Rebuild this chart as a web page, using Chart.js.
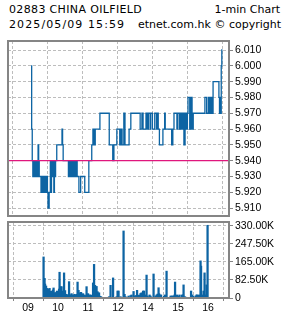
<!DOCTYPE html>
<html>
<head>
<meta charset="utf-8">
<script src="https://cdn.jsdelivr.net/npm/chart.js@4.4.1/dist/chart.umd.min.js"></script>
<style>
  html, body { margin: 0; padding: 0; background: #fff; }
  #wrap { position: relative; width: 285px; height: 318px; overflow: hidden; background: #fff; }
  canvas { position: absolute; left: 0; top: 0; }
  .t { position: absolute; font-family: "DejaVu Sans", sans-serif; font-size: 11px; line-height: 13px; color: #000; white-space: nowrap; }
</style>
</head>
<body>
<div id="wrap">
  <div class="t" id="t1" style="left:9px; top:2.7px; letter-spacing:0.35px;">02883 CHINA OILFIELD</div>
  <div class="t" id="t2" style="right:5px; top:2.7px;">1-min Chart</div>
  <div class="t" id="t3" style="left:9px; top:17.7px; letter-spacing:1.1px;">2025/05/09 15:59</div>
  <div class="t" id="t4" style="right:4px; top:17.7px;">etnet.com.hk © copyright</div>
  <canvas id="cPrice" width="285" height="318"></canvas>
  <canvas id="cVol" width="285" height="318"></canvas>
</div>
<script>
// ---------------- data ----------------
const prevClose = 5.94;

const hourTicks = ['09:00', '10:00', '11:00', '12:00', '14:00', '15:00', '16:00'];
const hourLabels = ['09', '10', '11', '12', '14', '15', '16'];

const priceTicks = [5.91, 5.92, 5.93, 5.94, 5.95, 5.96, 5.97, 5.98, 5.99, 6.00, 6.01];
const volTicks = [0, 82500, 165000, 247500, 330000];

const priceTimes = [
  '09:31','09:32','09:33','09:34','09:35','09:36','09:37','09:38','09:39','09:40',
  '09:41','09:42','09:43','09:44','09:45','09:48','09:50','09:52','09:53','09:54',
  '09:56','09:57','09:58','09:59','10:00','10:02','10:04','10:05','10:06','10:07',
  '10:09','10:10','10:11','10:12','10:13','10:15','10:24','10:25','10:26','10:35',
  '10:36','10:37','10:38','10:39','10:40','10:42','10:43','10:44','10:45','10:47',
  '10:48','10:50','10:53','10:56','11:03','11:10','11:15','11:17','11:18','11:19',
  '11:20','11:21','11:29','11:45','11:51','11:53','11:58','13:03','13:04','13:05',
  '13:06','13:07','13:10','13:12','13:19','13:22','13:38','13:41','13:43','13:48',
  '13:50','13:52','13:55','13:56','13:59','14:03','14:06','14:07','14:09','14:11',
  '14:17','14:20','14:21','14:32','14:34','14:36','14:41','14:42','14:45','14:47',
  '14:48','14:49','14:50','14:51','14:53','14:55','14:56','14:57','14:58','14:59',
  '15:00','15:03','15:04','15:05','15:06','15:07','15:09','15:29','15:32','15:35',
  '15:36','15:37','15:38','15:40','15:41','15:43','15:53','15:54','15:55','15:56',
  '15:57','15:58','15:59'
];
const prices = [
  6.00, 5.96, 5.94, 5.93, 5.94, 5.93, 5.94, 5.93, 5.94, 5.93,
  5.94, 5.93, 5.95, 5.94, 5.93, 5.92, 5.93, 5.92, 5.93, 5.92,
  5.93, 5.92, 5.93, 5.92, 5.91, 5.92, 5.94, 5.92, 5.94, 5.93,
  5.94, 5.92, 5.94, 5.93, 5.94, 5.95, 5.96, 5.95, 5.94, 5.93,
  5.94, 5.93, 5.94, 5.93, 5.94, 5.93, 5.94, 5.93, 5.94, 5.93,
  5.94, 5.93, 5.92, 5.93, 5.92, 5.94, 5.95, 5.96, 5.95, 5.96,
  5.95, 5.96, 5.97, 5.95, 5.94, 5.95, 5.96, 5.95, 5.96, 5.95,
  5.96, 5.95, 5.97, 5.95, 5.96, 5.97, 5.96, 5.97, 5.96, 5.97,
  5.96, 5.97, 5.96, 5.97, 5.96, 5.97, 5.96, 5.97, 5.96, 5.95,
  5.96, 5.97, 5.96, 5.95, 5.96, 5.97, 5.96, 5.97, 5.96, 5.97,
  5.96, 5.97, 5.96, 5.97, 5.95, 5.97, 5.96, 5.97, 5.96, 5.97,
  5.98, 5.96, 5.98, 5.96, 5.98, 5.96, 5.97, 5.98, 5.97, 5.98,
  5.97, 5.98, 5.97, 5.98, 5.97, 5.99, 5.98, 5.97, 5.98, 5.97,
  6.00, 6.01, 6.01
];

const volTimes = [
  '09:31','09:33','09:34','09:36','09:38','09:39','09:41','09:43','09:45','09:46',
  '09:48','09:50','09:51','09:53','09:55','09:57','09:58','10:00','10:02','10:03',
  '10:05','10:07','10:09','10:10','10:12','10:14','10:15','10:17','10:19','10:21',
  '10:22','10:24','10:26','10:27','10:29','10:31','10:33','10:34','10:36','10:38',
  '10:39','10:41','10:43','10:45','10:46','10:48','10:50','10:51','10:53','10:55',
  '10:57','10:58','11:00','11:02','11:03','11:05','11:07','11:09','11:10','11:12',
  '11:14','11:15','11:17','11:19','11:21','11:22','11:24','11:26','11:30','11:35',
  '11:42','11:45','11:50','11:57','11:59','13:01','13:05','13:11','13:13','13:15',
  '13:21','13:25','13:27','13:31','13:33','13:35','13:37','13:38','13:40','13:41',
  '13:43','13:45','13:47','13:50','13:52','13:55','13:57','13:59','14:03','14:05',
  '14:11','14:15','14:17','14:19','14:21','14:22','14:24','14:26','14:32','14:34',
  '14:37','14:45','14:47','14:49','14:51','14:53','14:54','14:55','14:58','15:01',
  '15:03','15:08','15:10','15:11','15:14','15:26','15:28','15:30','15:35','15:37',
  '15:38','15:40','15:42','15:45','15:46','15:48','15:51','15:53','15:55','15:57',
  '15:59'
];
const volumes = [
  188000, 90000, 64000, 55000, 44000, 35000, 41000, 44000, 30000, 30000,
  32000, 37000, 46000, 24000, 24000, 27000, 32000, 30000, 41000, 118000,
  52000, 52000, 32000, 29000, 115000, 34000, 17000, 17000, 12000, 14000,
  75000, 14000, 14000, 20000, 14000, 12000, 17000, 15000, 12000, 17000,
  73000, 35000, 24000, 17000, 26000, 14000, 20000, 12000, 14000, 11000,
  52000, 12000, 20000, 11000, 14000, 14000, 12000, 12000, 69000, 154000,
  58000, 11000, 53000, 29000, 15000, 24000, 8000, 6000, 3000, 3000,
  6000, 58000, 92000, 6000, 32000, 32000, 6000, 307000, 17000, 6000,
  9000, 11000, 14000, 30000, 8000, 11000, 11000, 35000, 12000, 9000,
  14000, 21000, 24000, 32000, 32000, 14000, 105000, 9000, 14000, 9000,
  110000, 9000, 14000, 18000, 47000, 20000, 14000, 14000, 9000, 14000,
  123000, 9000, 9000, 9000, 9000, 14000, 73000, 9000, 14000, 9000,
  14000, 14000, 14000, 60000, 6000, 32000, 14000, 9000, 9000, 14000,
  14000, 9000, 14000, 170000, 146000, 14000, 32000, 115000, 14000, 60000,
  333000
];

// ---------------- helpers ----------------
// trading-minute axis: minutes after 09:00 with the 12:00-13:00 lunch break collapsed
function toT(hhmm) {
  const [h, m] = hhmm.split(':').map(Number);
  let t = h * 60 + m - 540;
  if (h >= 13) t -= 60;
  return t;
}
const X_MIN = -8.57, X_MAX = 370.3;
const blue = '#0d64a3';
const gridColor = '#bdbdbd';
const axisFont = { family: '"Liberation Sans", Arial, sans-serif', size: 10.5 };

const boxPlugin = {
  id: 'box',
  afterDraw(chart) {
    const a = chart.chartArea, ctx = chart.ctx;
    ctx.save();
    ctx.strokeStyle = '#858585';
    ctx.lineWidth = 2;
    ctx.strokeRect(a.left, a.top, a.right - a.left, a.bottom - a.top);
    ctx.restore();
  }
};
const prevClosePlugin = {
  id: 'prevClose',
  afterDatasetsDraw(chart) {
    const y = chart.scales.y.getPixelForValue(prevClose);
    const a = chart.chartArea, ctx = chart.ctx;
    ctx.save();
    ctx.strokeStyle = '#e0177d';
    ctx.lineWidth = 1.3;
    ctx.beginPath();
    ctx.moveTo(a.left, y);
    ctx.lineTo(a.right, y);
    ctx.stroke();
    ctx.restore();
  }
};

const xTickValues = hourTicks.map(toT);

function xScale(showLabels) {
  return {
    type: 'linear',
    min: X_MIN, max: X_MAX,
    afterBuildTicks: s => { s.ticks = xTickValues.map(v => ({ value: v })); },
    afterFit: s => { s.height = showLabels ? 20 : 0; },
    ticks: {
      display: showLabels,
      autoSkip: false, maxRotation: 0,
      padding: 1,
      color: '#000',
      font: axisFont,
      callback: (v) => { const i = xTickValues.indexOf(v); return i >= 0 ? hourLabels[i] : ''; }
    },
    grid: { color: gridColor, lineWidth: 1, drawTicks: showLabels, tickLength: 3, tickColor: '#858585' },
    border: { display: false, dash: [3, 2] }
  };
}

// ---------------- price chart ----------------
new Chart(document.getElementById('cPrice'), {
  type: 'line',
  data: {
    datasets: [{
      data: priceTimes.map((tm, i) => ({ x: toT(tm), y: prices[i] })),
      stepped: true,
      borderColor: blue,
      borderWidth: 1.3,
      pointRadius: 0,
      fill: false,
      tension: 0
    }]
  },
  options: {
    responsive: false, animation: false, devicePixelRatio: 1,
    layout: { padding: { left: 8, top: 41, right: 0, bottom: 102 } },
    plugins: { legend: { display: false }, tooltip: { enabled: false } },
    scales: {
      x: xScale(false),
      y: {
        position: 'right',
        min: 5.905, max: 6.0157,
        afterBuildTicks: s => { s.ticks = priceTicks.map(v => ({ value: v })); },
        afterFit: s => { s.width = 56; },
        ticks: { color: '#000', font: axisFont, padding: 2, callback: v => Number(v).toFixed(3) },
        grid: { color: gridColor, tickLength: 4, tickColor: '#858585' },
        border: { display: false, dash: [3, 2] }
      }
    }
  },
  plugins: [prevClosePlugin, boxPlugin]
});

// ---------------- volume chart ----------------
new Chart(document.getElementById('cVol'), {
  type: 'bar',
  data: {
    datasets: [{
      data: volTimes.map((tm, i) => ({ x: toT(tm), y: volumes[i] })),
      backgroundColor: blue,
      borderWidth: 0,
      barThickness: 1.6
    }]
  },
  options: {
    responsive: false, animation: false, devicePixelRatio: 1,
    layout: { padding: { left: 8, top: 222, right: 0, bottom: 0 } },
    plugins: { legend: { display: false }, tooltip: { enabled: false } },
    scales: {
      x: xScale(true),
      y: {
        position: 'right',
        min: 0, max: 348000,
        afterBuildTicks: s => { s.ticks = volTicks.map(v => ({ value: v })); },
        afterFit: s => { s.width = 56; },
        ticks: { color: '#000', font: axisFont, padding: 2,
                 callback: v => v === 0 ? '0' : (v / 1000).toFixed(2) + 'K' },
        grid: { color: gridColor, tickLength: 4, tickColor: '#858585' },
        border: { display: false, dash: [3, 2] }
      }
    }
  },
  plugins: [boxPlugin]
});
</script>
</body>
</html>
